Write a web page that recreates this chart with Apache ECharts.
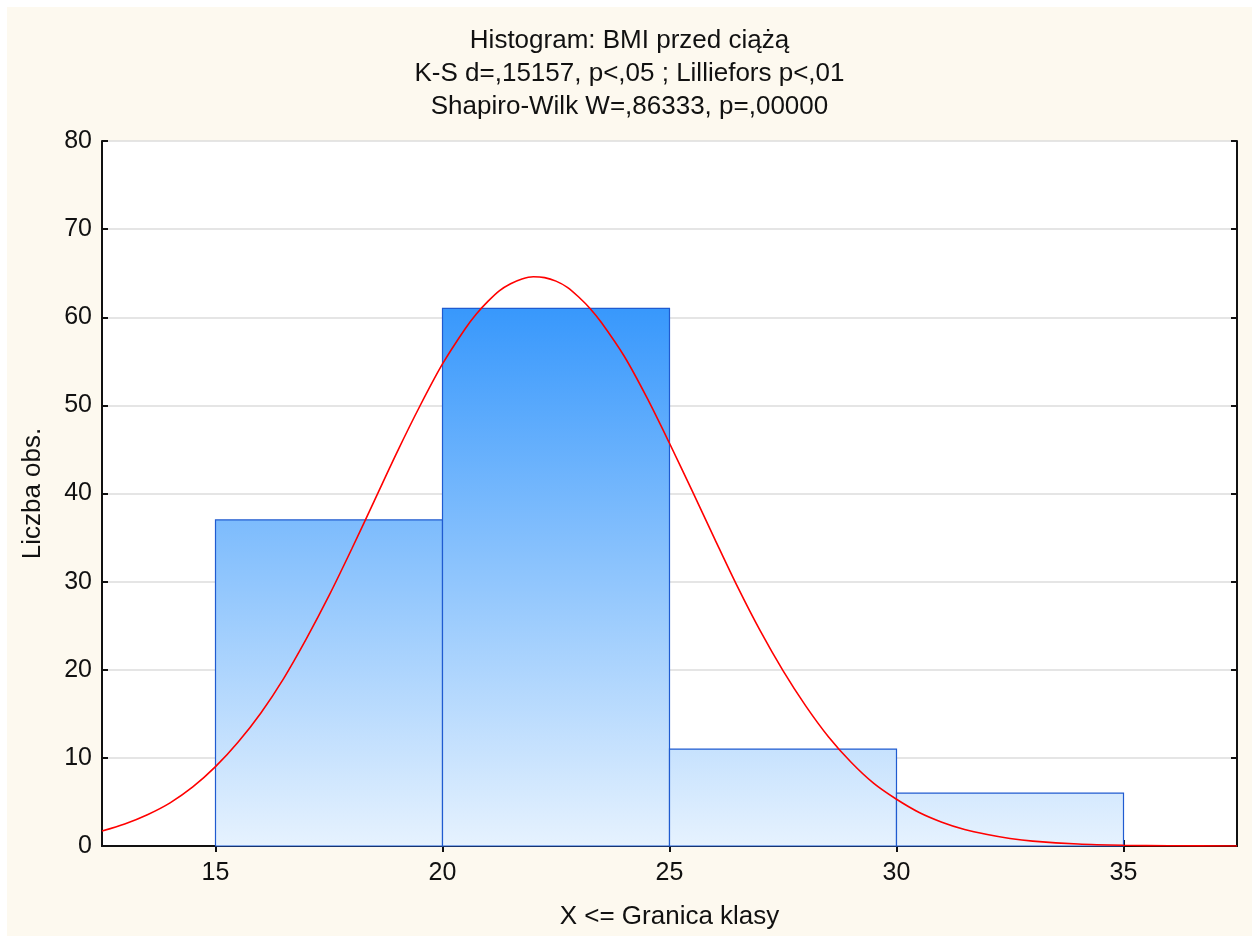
<!DOCTYPE html>
<html>
<head>
<meta charset="utf-8">
<script src="https://cdn.jsdelivr.net/npm/echarts@6/dist/echarts.min.js"></script>
<style>
  html, body { margin: 0; padding: 0; background: #fff; }
  #frame { position: absolute; left: 7px; top: 7px; width: 1245px; height: 929px; background: #fdf9ef; }
  #chart { width: 1245px; height: 929px; }
</style>
</head>
<body>
<div id="frame"><div id="chart"></div></div>
<script>
// histogram classes (upper bound = X <= Granica klasy)
const binStart = [15, 20, 25, 30]
const binEnd = [20, 25, 30, 35]
const binCount = [37, 61, 11, 6]

// fitted normal curve
const curveX = [12.5, 13, 13.5, 14, 14.5, 15, 15.5, 16, 16.5, 17, 17.5, 18, 18.5, 19, 19.5, 20, 20.5, 20.75, 21, 21.25, 21.5, 21.75, 22,
  22.25, 22.5, 22.75, 23, 23.25, 23.5, 24, 24.5, 25, 25.5, 26, 26.5, 27, 27.5, 28, 28.5, 29, 29.5, 30, 30.5, 31, 31.5, 32, 32.5, 33, 34, 35, 36, 37.5]
const curveY = [1.7, 2.5, 3.55, 4.9, 6.7, 9.0, 11.8, 15.1, 19.0, 23.5, 28.4, 33.7, 39.2, 44.7, 49.9, 54.7, 58.7, 60.4, 61.8, 63.0, 63.8, 64.35, 64.6,
  64.5, 64.1, 63.4, 62.3, 61.0, 59.4, 55.6, 50.9, 45.7, 40.3, 34.8, 29.4, 24.4, 19.9, 15.9, 12.4, 9.5, 7.1, 5.3, 3.8, 2.7, 1.87, 1.3, 0.85, 0.55, 0.22, 0.08, 0.03, 0.0]

const xTicks = [15, 20, 25, 30, 35]

const titleLines = [
  'Histogram: BMI przed ciążą',
  'K-S d=,15157, p<,05 ; Lilliefors p<,01',
  'Shapiro-Wilk W=,86333, p=,00000'
]

const font = 'Liberation Sans, Arial, sans-serif'
const chart = echarts.init(document.getElementById('chart'))

const axisLine = { lineStyle: { color: '#111', width: 2 } }
const tick = { inside: true, length: 6, lineStyle: { color: '#111', width: 2 } }

chart.setOption({
  animation: false,
  title: {
    text: titleLines.join('\n'),
    left: 'center',
    top: 12,
    textStyle: { fontFamily: font, fontSize: 26, fontWeight: 'normal', color: '#111', lineHeight: 33 }
  },
  grid: {
    left: 95, right: 15, top: 134, bottom: 90,
    show: true, backgroundColor: '#fff', borderWidth: 0
  },
  xAxis: [{
    type: 'value',
    min: 12.5,
    max: 37.5,
    position: 'bottom',
    name: 'X <= Granica klasy',
    nameLocation: 'middle',
    nameGap: 58,
    nameTextStyle: { fontFamily: font, fontSize: 26, color: '#111' },
    axisLine,
    axisTick: { ...tick, customValues: xTicks },
    axisLabel: { customValues: xTicks, fontFamily: font, fontSize: 25, color: '#111', margin: 15 },
    splitLine: { show: false }
  }, {
    type: 'value',
    min: 12.5,
    max: 37.5,
    position: 'top',
    axisLine,
    axisTick: { ...tick, customValues: xTicks },
    axisLabel: { show: false },
    splitLine: { show: false }
  }],
  yAxis: [{
    type: 'value',
    min: 0,
    max: 80,
    interval: 10,
    position: 'left',
    name: 'Liczba obs.',
    nameLocation: 'middle',
    nameGap: 56,
    nameTextStyle: { fontFamily: font, fontSize: 26, color: '#111' },
    axisLine,
    axisTick: tick,
    axisLabel: { fontFamily: font, fontSize: 25, color: '#111', margin: 10 },
    splitLine: { lineStyle: { color: '#dcdcdc', width: 1.5 } }
  }, {
    type: 'value',
    min: 0,
    max: 80,
    interval: 10,
    position: 'right',
    axisLine,
    axisTick: tick,
    axisLabel: { show: false },
    splitLine: { show: false }
  }],
  series: [{
    type: 'custom',
    xAxisIndex: 0,
    yAxisIndex: 0,
    data: binCount.map((c, i) => [binStart[i], binEnd[i], c]),
    renderItem: (params, api) => {
      const p0 = api.coord([api.value(0), 0])
      const p1 = api.coord([api.value(1), api.value(2)])
      const top = api.coord([0, Math.max(...binCount)])[1]
      return {
        type: 'rect',
        shape: { x: p0[0], y: p1[1], width: p1[0] - p0[0], height: p0[1] - p1[1] },
        style: {
          fill: {
            type: 'linear', x: 0, y: top, x2: 0, y2: p0[1], global: true,
            colorStops: [{ offset: 0, color: '#3898fc' }, { offset: 1, color: '#e6f2fe' }]
          },
          stroke: '#1f5bd0',
          lineWidth: 1.2
        }
      }
    },
    z: 2
  }, {
    type: 'line',
    xAxisIndex: 0,
    yAxisIndex: 0,
    data: curveX.map((x, i) => [x, curveY[i]]),
    smooth: 0.3,
    showSymbol: false,
    lineStyle: { color: '#ff0000', width: 1.6 },
    z: 3
  }]
})
</script>
</body>
</html>
